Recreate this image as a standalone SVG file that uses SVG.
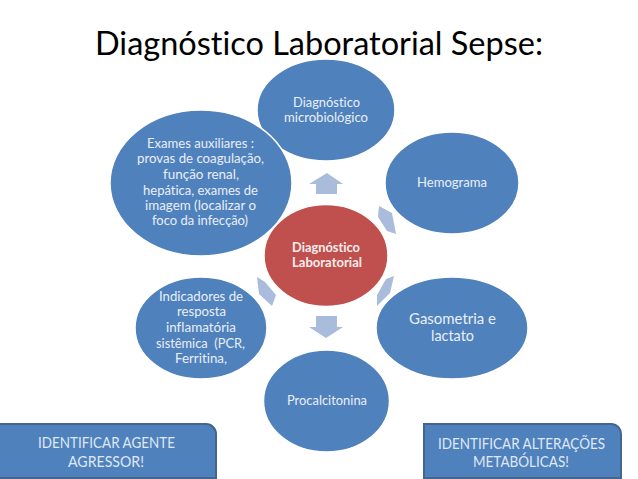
<svg xmlns="http://www.w3.org/2000/svg" width="638" height="479" viewBox="0 0 638 479">
<style>
text{font-family:"Lato","Open Sans","Liberation Sans",sans-serif;text-anchor:middle;fill:#e9eff7;font-variant-ligatures:none}
.t12{font-size:13px}
.t14{font-size:15px}
.t15{font-size:16px;fill:#dfe8f4}
.title{font-size:33px;fill:#000;text-anchor:start}
.b{font-weight:700;font-size:13px;fill:#f7ecec}
.e{fill:#4f81bd;stroke:#fff;stroke-width:1.5}
.r{fill:#c0504d;stroke:#fff;stroke-width:1.5}
.a{fill:#a9bcdb}
.box{fill:#4f81bd;stroke:#41668f;stroke-width:2}
</style>
<rect width="638" height="479" fill="#fff"/>
<g id="title"><text class="title" x="95" y="55" textLength="448" lengthAdjust="spacingAndGlyphs">Diagnóstico Laboratorial Sepse:</text></g>
<g id="connectors">
<polygon class="a" points="327,173 343,184 337,184 337,194 316,194 316,184 309,184"/>
<polygon class="a" points="379,206 392,213 396,234 387,231 378,217"/>
<polygon class="a" points="394,276 390,293 377,306 377,295 386,279"/>
<polygon class="a" points="326,338 343,327 337,327 337,316 316,316 316,327 309,327"/>
<polygon class="a" points="257,277 265,282 276,295 272,306 259,294"/>
</g>
<g id="node-microbiologico">
<ellipse class="e" cx="326" cy="110" rx="69" ry="51"/>
<text class="t12" x="326.500" y="107" textLength="67" lengthAdjust="spacingAndGlyphs">Diagnóstico</text>
<text class="t12" x="326" y="122" textLength="84" lengthAdjust="spacingAndGlyphs">microbiológico</text>
</g>
<g id="node-exames">
<ellipse class="e" cx="201" cy="183" rx="91" ry="73"/>
<text class="t12" x="200.500" y="148" textLength="107" lengthAdjust="spacingAndGlyphs">Exames auxiliares :</text>
<text class="t12" x="200.500" y="163" textLength="127" lengthAdjust="spacingAndGlyphs">provas de coagulação,</text>
<text class="t12" x="201" y="179" textLength="76" lengthAdjust="spacingAndGlyphs">função renal,</text>
<text class="t12" x="200.500" y="195" textLength="115" lengthAdjust="spacingAndGlyphs">hepática, exames de</text>
<text class="t12" x="200.500" y="210" textLength="111" lengthAdjust="spacingAndGlyphs">imagem (localizar o</text>
<text class="t12" x="200" y="225" textLength="96" lengthAdjust="spacingAndGlyphs">foco da infecção)</text>
</g>
<g id="node-hemograma">
<ellipse class="e" cx="452" cy="183" rx="67" ry="51"/>
<text class="t12" x="452" y="187" textLength="70" lengthAdjust="spacingAndGlyphs">Hemograma</text>
</g>
<g id="node-gasometria">
<ellipse class="e" cx="452" cy="328" rx="76" ry="51"/>
<text class="t14" x="452.500" y="324" textLength="87" lengthAdjust="spacingAndGlyphs">Gasometria e</text>
<text class="t14" x="452.500" y="341" textLength="43" lengthAdjust="spacingAndGlyphs">lactato</text>
</g>
<g id="node-procalcitonina">
<ellipse class="e" cx="326.500" cy="401" rx="63" ry="51"/>
<text class="t12" x="327" y="405" textLength="80" lengthAdjust="spacingAndGlyphs">Procalcitonina</text>
</g>
<g id="node-indicadores">
<ellipse class="e" cx="201" cy="328" rx="66" ry="51"/>
<text class="t12" x="201" y="301" textLength="84" lengthAdjust="spacingAndGlyphs">Indicadores de</text>
<text class="t12" x="201.500" y="316" textLength="49" lengthAdjust="spacingAndGlyphs">resposta</text>
<text class="t12" x="201" y="332" textLength="70" lengthAdjust="spacingAndGlyphs">inflamatória</text>
<text class="t12" x="200.500" y="348" textLength="89" lengthAdjust="spacingAndGlyphs" xml:space="preserve">sistêmica  (PCR,</text>
<text class="t12" x="201" y="363" textLength="52" lengthAdjust="spacingAndGlyphs">Ferritina,</text>
</g>
<g id="node-central">
<ellipse class="r" cx="326" cy="255.500" rx="62" ry="51"/>
<text class="b" x="326" y="252" textLength="68" lengthAdjust="spacingAndGlyphs">Diagnóstico</text>
<text class="b" x="327" y="267" textLength="70" lengthAdjust="spacingAndGlyphs">Laboratorial</text>
</g>
<g id="box-agente">
<path class="box" d="M-2 424H206A10 10 0 0 1 216 434V478H-2Z"/>
<text class="t15" x="106.500" y="448" textLength="137" lengthAdjust="spacingAndGlyphs">IDENTIFICAR AGENTE</text>
<text class="t15" x="106" y="467" textLength="76" lengthAdjust="spacingAndGlyphs">AGRESSOR!</text>
</g>
<g id="box-alteracoes">
<path class="box" d="M424 424H612A10 10 0 0 1 621 434V478H424Z"/>
<text class="t15" x="521.500" y="449" textLength="167" lengthAdjust="spacingAndGlyphs">IDENTIFICAR ALTERAÇÕES</text>
<text class="t15" x="521" y="467" textLength="96" lengthAdjust="spacingAndGlyphs">METABÓLICAS!</text>
</g>
</svg>
